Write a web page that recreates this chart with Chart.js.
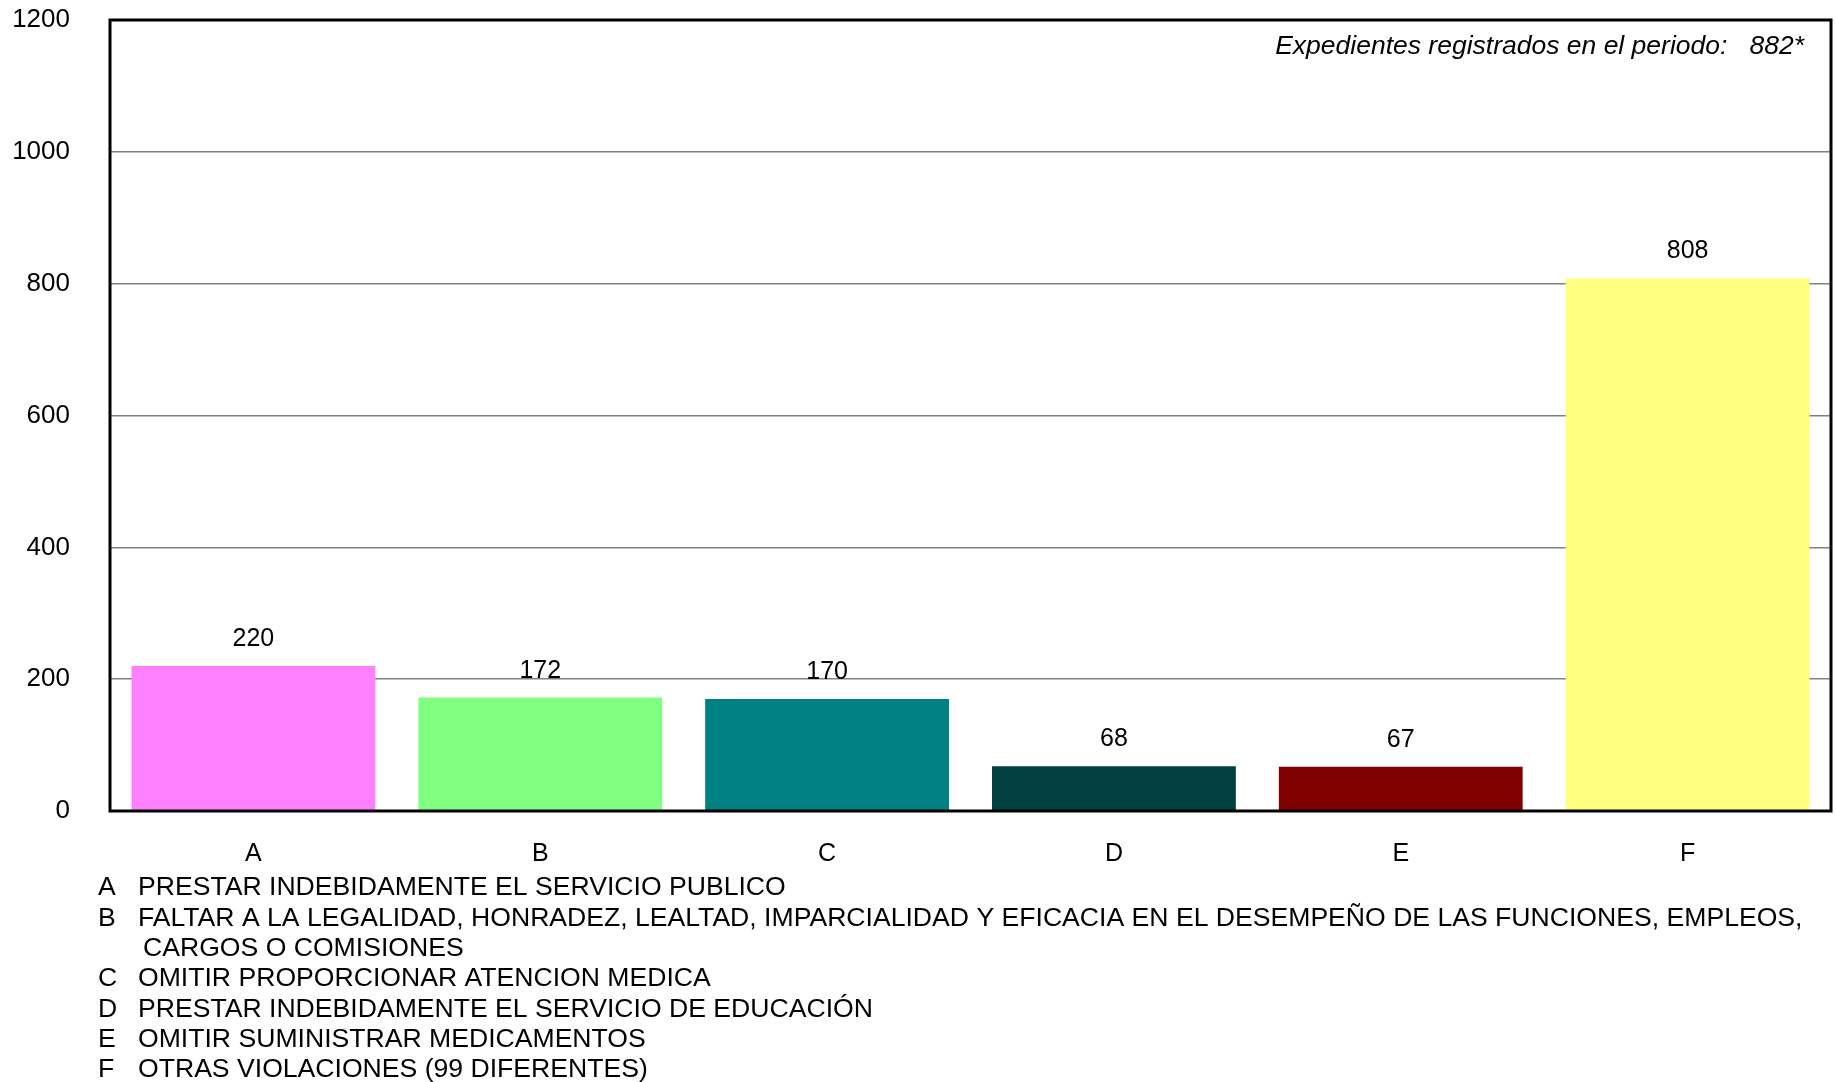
<!DOCTYPE html>
<html>
<head>
<meta charset="utf-8">
<script src="https://cdn.jsdelivr.net/npm/chart.js@4"></script>
<style>
  html, body { margin: 0; padding: 0; background: #fff; }
  #wrap { width: 1836px; height: 1082px; position: relative; }
</style>
</head>
<body>
<div id="wrap"><canvas id="chart"></canvas></div>
<script>
// datos del gráfico
const categories = ["A", "B", "C", "D", "E", "F"];
const values = [220, 172, 170, 68, 67, 808];
const barColors = ["#ff80ff", "#80ff80", "#008080", "#004040", "#800000", "#ffff80"];
const yMin = 0;
const yMax = 1200;
const yStep = 200;
const totalNote = "Expedientes registrados en el periodo:   882*";
// descripción de cada letra (la B ocupa dos renglones)
const legendLetters = ["A", "B", "", "C", "D", "E", "F"];
const legendTexts = [
    "PRESTAR INDEBIDAMENTE EL SERVICIO PUBLICO",
    "FALTAR A LA LEGALIDAD, HONRADEZ, LEALTAD, IMPARCIALIDAD Y EFICACIA EN EL DESEMPEÑO DE LAS FUNCIONES, EMPLEOS,",
    "CARGOS O COMISIONES",
    "OMITIR PROPORCIONAR ATENCION MEDICA",
    "PRESTAR INDEBIDAMENTE EL SERVICIO DE EDUCACIÓN",
    "OMITIR SUMINISTRAR MEDICAMENTOS",
    "OTRAS VIOLACIONES (99 DIFERENTES)"
];

const FONT = "'Liberation Sans', Arial, sans-serif";

// dibuja etiquetas de valor, marco, nota y descripciones
const extras = {
    id: "extras",
    afterDatasetsDraw(chart) {
        const ctx = chart.ctx;
        const area = chart.chartArea;
        const meta = chart.getDatasetMeta(0);
        ctx.save();

        // etiquetas arriba de cada barra
        ctx.fillStyle = "#000";
        ctx.font = "25px " + FONT;
        ctx.textAlign = "center";
        ctx.textBaseline = "middle";
        meta.data.forEach((bar, i) => {
            ctx.fillText(String(values[i]), bar.x, bar.y - 27);
        });

        // marco del área
        ctx.strokeStyle = "#000";
        ctx.lineWidth = 3;
        ctx.strokeRect(area.left, area.top, area.right - area.left, area.bottom - area.top);

        // nota del total
        ctx.font = "italic 26.5px " + FONT;
        ctx.textAlign = "right";
        ctx.fillText(totalNote, area.right - 27, area.top + 27);

        // descripciones
        ctx.font = "26.6px " + FONT;
        ctx.textAlign = "left";
        let y = area.bottom + 77;
        legendLetters.forEach((letter, i) => {
            ctx.fillText(letter, 98, y);
            ctx.fillText(legendTexts[i], i === 2 ? 143 : 138, y);
            y += 30.3;
        });
        ctx.restore();
    }
};

new Chart(document.getElementById("chart"), {
    type: "bar",
    data: {
        labels: categories,
        datasets: [
            {
                data: values,
                backgroundColor: barColors,
                borderWidth: 0,
                barPercentage: 0.85,
                categoryPercentage: 1.0,
            },
        ],
    },
    options: {
        responsive: true,
        maintainAspectRatio: false,
        animation: false,
        layout: { padding: { top: 20, right: 5, left: 0, bottom: 0 } },
        plugins: {
            legend: { display: false },
            tooltip: { enabled: false },
        },
        scales: {
            x: {
                grid: { display: false, drawTicks: false },
                border: { display: false },
                ticks: { color: "#000", font: { family: FONT, size: 25 }, padding: 28 },
                afterFit: (scale) => { scale.height = 271; },
            },
            y: {
                min: yMin,
                max: yMax,
                // marcas invisibles para separar las etiquetas del eje
                grid: { color: "#808080", lineWidth: 1.5, drawTicks: true, tickLength: 40, tickColor: "rgba(0,0,0,0)" },
                border: { display: false },
                ticks: {
                    stepSize: yStep,
                    color: "#000",
                    font: { family: FONT, size: 26 },
                    padding: 0,
                    callback: (v) => String(v), // sin separador de miles
                },
                afterFit: (scale) => { scale.width = 110; },
            },
        },
    },
    plugins: [extras],
});
</script>
</body>
</html>
